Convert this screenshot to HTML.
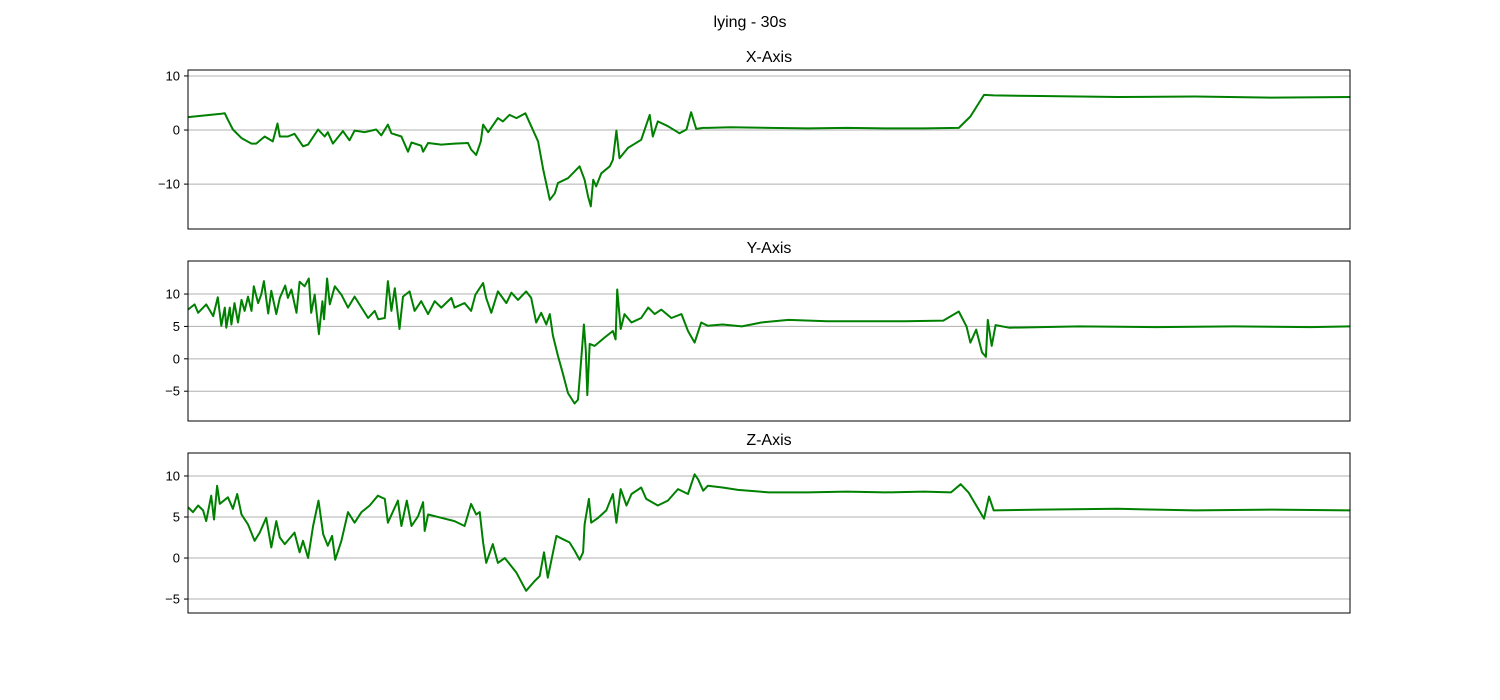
<!DOCTYPE html>
<html><head><meta charset="utf-8">
<style>
html,body{margin:0;padding:0;background:#fff;}
svg{display:block;font-family:"Liberation Sans","DejaVu Sans",sans-serif;}
</style></head>
<body>
<svg id="fig" width="1500" height="700" viewBox="0 0 1500 700">
<text x="750" y="27" text-anchor="middle" font-size="16">lying - 30s</text>
</svg>
<script>
const xTime = [0, 30];
const tX = [0,.86,.95,1.03,1.16,1.38,1.64,1.76,1.98,2.19,2.31,2.37,2.58,2.75,2.97,3.10,3.36,3.53,3.61,3.74,4.0,4.17,4.30,4.56,4.86,4.99,5.16,5.25,5.51,5.68,5.77,6.02,6.07,6.2,6.54,6.88,7.23,7.31,7.44,7.56,7.62,7.75,8.0,8.13,8.3,8.48,8.71,8.86,9.04,9.17,9.34,9.47,9.55,9.81,10.11,10.24,10.33,10.40,10.46,10.54,10.67,10.89,10.97,11.06,11.14,11.36,11.7,11.92,12.0,12.13,12.39,12.69,12.87,12.99,13.12,13.3,13.42,14,15,16,17,18,19,19.9,20.2,20.55,20.8,22,24,26,28,30];
const vX = [2.4,3.0,3.1,1.9,0.1,-1.5,-2.5,-2.5,-1.2,-2.1,1.2,-1.2,-1.2,-0.7,-3.0,-2.7,0.1,-1.2,-0.4,-2.5,-0.2,-1.9,-0.1,-0.4,0.1,-1.0,1.0,-0.6,-1.2,-4.0,-2.3,-2.9,-4.0,-2.4,-2.7,-2.5,-2.4,-3.6,-4.6,-2.1,1.0,-0.4,2.2,1.6,2.8,2.2,3.1,0.7,-2.1,-7.3,-12.9,-11.7,-9.8,-8.9,-6.7,-9.2,-12.3,-14.1,-9.2,-10.4,-8.0,-6.7,-5.5,-0.1,-5.2,-3.3,-1.8,2.8,-1.2,1.6,0.7,-0.6,0.1,3.3,0.2,0.4,0.4,0.5,0.4,0.3,0.4,0.3,0.3,0.4,2.5,6.5,6.4,6.3,6.1,6.2,6.0,6.1];
const tY = [0,.17,.26,.47,.65,.77,.86,.95,.99,1.08,1.12,1.2,1.29,1.38,1.46,1.55,1.64,1.70,1.81,1.89,1.96,2.07,2.15,2.28,2.37,2.51,2.58,2.67,2.8,2.88,3.01,3.12,3.18,3.27,3.38,3.47,3.51,3.59,3.66,3.79,3.96,4.13,4.3,4.48,4.65,4.82,4.91,5.08,5.16,5.25,5.34,5.46,5.55,5.72,5.85,6.02,6.2,6.37,6.54,6.8,6.88,7.14,7.31,7.42,7.62,7.7,7.83,8.0,8.22,8.35,8.52,8.73,8.86,8.99,9.12,9.25,9.34,9.42,9.55,9.68,9.81,9.98,10.07,10.15,10.22,10.27,10.31,10.37,10.5,10.76,10.97,11.04,11.08,11.17,11.27,11.45,11.7,11.88,12.05,12.22,12.48,12.74,12.91,13.08,13.25,13.42,13.8,14.3,14.8,15.5,16.5,17.5,18.5,19.5,19.9,20.1,20.2,20.35,20.5,20.6,20.65,20.75,20.85,21.2,23,25,27,29,30];
const vY = [7.6,8.4,7.1,8.4,6.6,9.5,5.1,7.9,4.8,7.9,5.3,8.6,5.6,9.1,7.4,9.6,7.4,11.2,8.6,9.9,12.0,7.0,10.5,6.9,9.4,11.3,9.4,10.7,7.1,11.9,11.2,12.4,7.1,9.9,3.8,8.9,6.1,12.4,8.4,11.2,9.9,7.9,9.6,7.9,6.3,7.4,6.1,6.3,12.0,7.4,10.9,4.6,9.6,10.4,7.4,8.9,6.9,8.9,7.9,9.4,7.9,8.6,7.4,9.9,11.7,9.4,7.1,10.4,8.6,10.2,9.1,10.4,9.4,5.6,7.1,5.3,6.9,3.6,0.5,-2.3,-5.3,-6.9,-6.3,-0.3,5.3,1.3,-5.6,2.3,2.0,3.3,4.3,3.0,10.7,4.6,6.9,5.6,6.3,7.9,6.9,7.6,6.3,6.9,4.3,2.5,5.6,5.1,5.3,5.0,5.6,6.0,5.8,5.8,5.8,5.9,7.3,5.0,2.5,4.5,1.0,0.3,6.0,2.0,5.2,4.8,5.0,4.9,5.0,4.9,5.0];
const tZ = [0,.13,.26,.39,.47,.6,.67,.75,.82,1.03,1.16,1.27,1.38,1.55,1.72,1.85,2.02,2.15,2.28,2.37,2.5,2.75,2.88,2.97,3.1,3.23,3.37,3.49,3.61,3.72,3.8,3.96,4.13,4.3,4.48,4.69,4.9,5.08,5.16,5.42,5.51,5.65,5.77,5.94,6.07,6.11,6.2,6.54,6.88,7.14,7.31,7.44,7.53,7.62,7.7,7.87,8.0,8.18,8.48,8.73,8.95,9.08,9.19,9.29,9.51,9.68,9.85,9.98,10.11,10.2,10.24,10.35,10.41,10.59,10.8,10.97,11.06,11.17,11.32,11.45,11.7,11.83,12.13,12.39,12.65,12.91,13.08,13.17,13.3,13.42,13.8,14.2,15,16,17,18,19,19.7,19.95,20.15,20.4,20.55,20.68,20.8,22,24,26,28,30];
const vZ = [6.2,5.6,6.4,5.8,4.5,7.6,4.7,8.8,6.6,7.4,6.0,7.8,5.3,4.1,2.1,3.1,4.9,1.3,4.5,2.5,1.7,3.1,0.7,2.1,0.0,3.9,7.0,2.9,1.5,2.7,-0.2,2.1,5.6,4.3,5.6,6.4,7.6,7.2,4.3,7.0,3.9,7.0,3.9,5.1,6.8,3.3,5.3,4.9,4.5,3.9,6.6,5.3,5.6,1.9,-0.6,1.7,-0.6,0.0,-1.8,-4.0,-2.8,-2.2,0.7,-2.4,2.7,2.3,1.9,0.9,-0.2,0.7,4.1,7.2,4.3,4.9,5.8,7.8,4.3,8.4,6.4,7.8,8.6,7.2,6.4,7.0,8.4,7.8,10.2,9.6,8.2,8.8,8.6,8.3,8.0,8.0,8.1,8.0,8.1,8.0,9.0,8.0,6.0,4.8,7.5,5.8,5.9,6.0,5.8,5.9,5.8];
const ticksX = [-10, 0, 10];
const ticksY = [-5, 0, 5, 10];
const ticksZ = [-5, 0, 5, 10];
const titles = ['X-Axis','Y-Axis','Z-Axis'];

const NS='http://www.w3.org/2000/svg';
const svg=document.getElementById('fig');
const L=188,R=1350;
function xs(t){return L+(t-xTime[0])/(xTime[1]-xTime[0])*(R-L);}
function mk(tag,attrs){const e=document.createElementNS(NS,tag);for(const k in attrs)e.setAttribute(k,attrs[k]);return e;}
const panels=[
 {top:70,bot:229,ymin:-18.3,ymax:11.1,t:tX,v:vX,ticks:ticksX,key:'x'},
 {top:261,bot:421,ymin:-9.6,ymax:15.1,t:tY,v:vY,ticks:ticksY,key:'y'},
 {top:453,bot:613,ymin:-6.7,ymax:12.8,t:tZ,v:vZ,ticks:ticksZ,key:'z'}
];
panels.forEach((p,i)=>{
  const ys=v=>p.bot-(v-p.ymin)/(p.ymax-p.ymin)*(p.bot-p.top);
  const g=mk('g',{});
  
  
  svg.appendChild(g);
  const ttl=mk('text',{x:(L+R)/2,y:p.top-8,'text-anchor':'middle','font-size':16});
  ttl.textContent=titles[i];
  
  
  g.appendChild(ttl);
  p.ticks.forEach(tv=>{
    const y=ys(tv);
    const gl=mk('line',{x1:L,x2:R,y1:y,y2:y,stroke:'#b0b0b0','stroke-width':1});
    
    
    g.appendChild(gl);
    const tk=mk('line',{x1:L-4,x2:L,y1:y,y2:y,stroke:'#000','stroke-width':1});
    
    
    g.appendChild(tk);
    const lb=mk('text',{x:L-8,y:y+4.5,'text-anchor':'end','font-size':13});
    lb.textContent=tv<0?'\u2212'+Math.abs(tv):String(tv);
    
    
    g.appendChild(lb);
  });
  let d='';
  p.t.forEach((t,k)=>{d+=(k?'L':'M')+xs(t).toFixed(1)+','+ys(p.v[k]).toFixed(1);});
  const path=mk('path',{d:d,fill:'none',stroke:'#008000','stroke-width':2,'stroke-linejoin':'round'});
  
  
  const cp=mk('clipPath',{id:'c'+i});
  cp.appendChild(mk('rect',{x:L,y:p.top,width:R-L,height:p.bot-p.top}));
  g.appendChild(cp);
  path.setAttribute('clip-path','url(#c'+i+')');
  g.appendChild(path);
  const fr=mk('rect',{x:L,y:p.top,width:R-L,height:p.bot-p.top,fill:'none',stroke:'#000','stroke-width':1});
  
  
  g.appendChild(fr);
});
</script>
</body></html>
